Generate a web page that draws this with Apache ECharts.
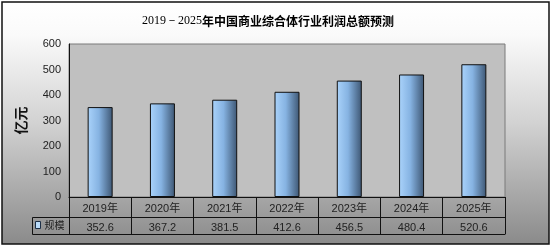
<!DOCTYPE html>
<html>
<head>
<meta charset="utf-8">
<script src="https://cdn.jsdelivr.net/npm/echarts@6/dist/echarts.min.js"></script>
<style>
  html, body { margin: 0; padding: 0; background: #ffffff; }
  #chart { width: 551px; height: 247px; }
</style>
</head>
<body>
<div id="chart"></div>
<script>
// 2019-2025 profit totals of China's commercial complex industry (亿元)
const years = ['2019年', '2020年', '2021年', '2022年', '2023年', '2024年', '2025年'];
const profit = [352.6, 367.2, 381.5, 412.6, 456.5, 480.4, 520.6];
const yTicks = { min: 0, max: 600, step: 100 };
const seriesName = '规模';
const unitName = '亿元';

const chart = echarts.init(document.getElementById('chart'), null, { renderer: 'canvas' });

const latin = 'Arial, "Liberation Sans", "Noto Sans CJK SC", sans-serif';
const cjk = '"Noto Sans CJK SC", "Liberation Sans", sans-serif';

const barFill = new echarts.graphic.LinearGradient(0, 0, 1, 0, [
  { offset: 0, color: '#aad3fb' },
  { offset: 0.45, color: '#86b3e2' },
  { offset: 1, color: '#3d5673' }
]);

const option = {
  backgroundColor: '#ffffff',
  animation: false,
  title: {
    text: '{n|2019－2025}{c|年中国商业综合体行业利润总额预测}',
    left: 137,
    top: 10,
    textStyle: {
      fontWeight: 'normal',
      rich: {
        n: { fontFamily: '"Liberation Serif", "DejaVu Serif", serif', fontSize: 12, fontWeight: 'normal', color: '#000' },
        c: { fontFamily: cjk, fontSize: 12, fontWeight: 'bold', color: '#000' }
      }
    }
  },
  graphic: [
    {
      type: 'rect', z: -10, silent: true,
      shape: { x: 2, y: 2, width: 547, height: 242 },
      style: {
        fill: new echarts.graphic.LinearGradient(0, 0, 0, 1, [
          { offset: 0, color: '#ffffff' },
          { offset: 0.14, color: '#fafafa' },
          { offset: 0.5, color: '#d2d2d2' },
          { offset: 1, color: '#8a8a8a' }
        ]),
        stroke: '#111', lineWidth: 1.5
      }
    },
    // frame of the legend cell to the left of the value row
    {
      type: 'polyline', silent: true, z: 10,
      shape: { points: [[69, 217.5], [32.5, 217.5], [32.5, 234.5], [69, 234.5]] },
      style: { stroke: '#111', lineWidth: 1, fill: null }
    }
  ],
  legend: {
    data: [{ name: seriesName, itemStyle: { color: '#b9dbfa', borderColor: '#1c2f46', borderWidth: 1 } }],
    left: 35,
    top: 220,
    padding: 0,
    icon: 'rect',
    itemWidth: 5,
    itemHeight: 7,
    itemGap: 4,
    textStyle: { fontFamily: cjk, fontSize: 10, color: '#222', padding: [0, 0, 0, -1] },
    selectedMode: false
  },
  grid: {
    left: 69, right: 46, top: 44, bottom: 50,
    show: true,
    backgroundColor: '#c0c0c0',
    borderColor: '#7a7a7a',
    borderWidth: 1
  },
  xAxis: [
    {
      type: 'category',
      data: years,
      position: 'bottom',
      axisLine: { show: true, lineStyle: { color: '#111', width: 1 } },
      axisTick: { show: true, length: 37, interval: 0, lineStyle: { color: '#111' } },
      axisLabel: { margin: 6, fontFamily: latin, fontSize: 11, color: '#222' }
    },
    {
      type: 'category',
      data: profit.map(v => v.toFixed(1)),
      position: 'bottom',
      offset: 20,
      axisLine: { show: true, lineStyle: { color: '#111', width: 1 } },
      axisTick: { show: false },
      axisLabel: { margin: 5, fontFamily: latin, fontSize: 11, color: '#222' }
    },
    {
      type: 'category',
      data: years,
      position: 'bottom',
      offset: 37,
      axisLine: { show: true, lineStyle: { color: '#111', width: 1 } },
      axisTick: { show: false },
      axisLabel: { show: false }
    }
  ],
  yAxis: {
    type: 'value',
    min: yTicks.min,
    max: yTicks.max,
    interval: yTicks.step,
    name: unitName,
    nameLocation: 'middle',
    nameGap: 41,
    nameTextStyle: { fontFamily: cjk, fontSize: 14, fontWeight: 'bold', color: '#111' },
    axisLine: { show: true, lineStyle: { color: '#111', width: 1 } },
    axisTick: { show: false },
    splitLine: { show: false },
    axisLabel: { margin: 8, fontFamily: latin, fontSize: 11, color: '#222' }
  },
  series: [
    {
      name: seriesName,
      type: 'bar',
      xAxisIndex: 0,
      data: profit,
      barWidth: 25,
      itemStyle: { color: barFill, borderColor: '#111', borderWidth: 1 }
    }
  ]
};

chart.setOption(option);
</script>
</body>
</html>
